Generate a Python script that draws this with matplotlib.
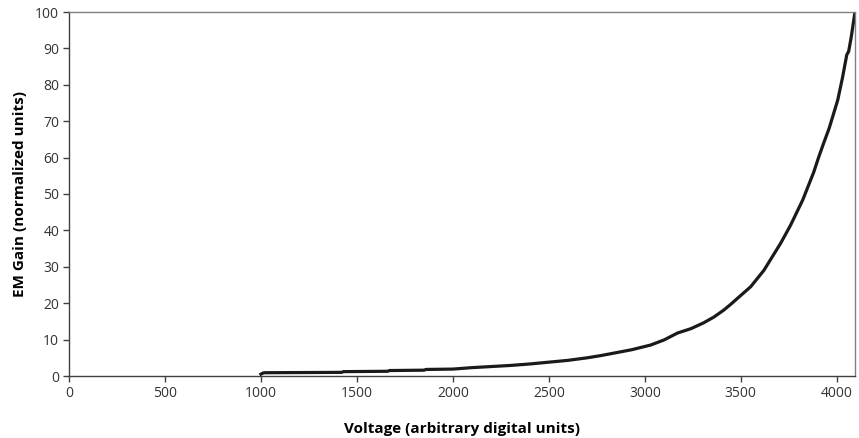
import matplotlib
matplotlib.use("Agg")
from matplotlib import pyplot as plt

plt.rcParams['font.family'] = ['Open Sans', 'DejaVu Sans']

# voltage (digital units) vs EM gain (normalized)
voltage = [1000, 1010, 1020, 1420, 1430, 1660, 1670, 1850, 1860, 2000, 2100,
           2200, 2300, 2400, 2500, 2600, 2700, 2770, 2840, 2930, 3030, 3100,
           3170, 3240, 3306, 3360, 3411, 3450, 3484, 3551, 3620, 3708, 3760,
           3823, 3850, 3880, 3905, 3932, 3960, 4005, 4030, 4052, 4062, 4075,
           4085, 4095]
gain = [0.5, 0.8, 0.9, 1.0, 1.2, 1.3, 1.5, 1.6, 1.8, 1.9, 2.3,
        2.6, 2.9, 3.3, 3.8, 4.3, 5.0, 5.6, 6.3, 7.2, 8.5, 9.9,
        11.8, 13.0, 14.6, 16.2, 18.1, 19.8, 21.4, 24.5, 29.0, 36.5, 41.5,
        48.4, 52.0, 56.0, 60.0, 64.0, 68.0, 75.8, 82.0, 88.2, 89.2, 93.0,
        96.5, 100.0]

fig = plt.figure(figsize=(8.59, 4.38), dpi=100)
ax = fig.add_axes([69 / 859, 1 - 376 / 438, (855 - 69) / 859, (376 - 12) / 438])

ax.plot(voltage, gain, color='#1a1a1a', lw=2.3, solid_joinstyle='round')

ax.set_xlim(0, 4095)
ax.set_ylim(0, 100)
ax.set_xticks(range(0, 4001, 500))
ax.set_yticks(range(0, 101, 10))

for s in ax.spines.values():
    s.set_color('#808080')
    s.set_linewidth(1.0)
ax.spines['left'].set_color('#404040')
ax.spines['bottom'].set_color('#404040')
ax.tick_params(direction='out', length=4, width=1, color='#404040',
               labelsize=10, labelcolor='#333333', pad=3)

ax.set_xlabel('Voltage (arbitrary digital units)', fontsize=11,
              fontweight='bold', labelpad=15)
ax.set_ylabel('EM Gain (normalized units)', fontsize=11,
              fontweight='bold', labelpad=6)

fig.savefig('out.png', dpi=100)
